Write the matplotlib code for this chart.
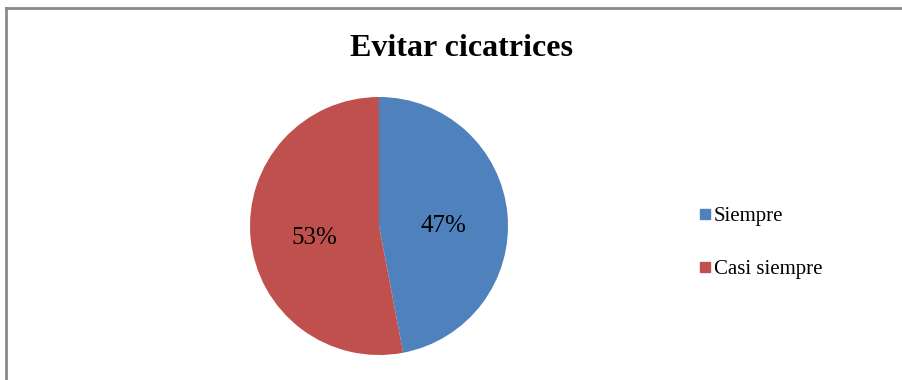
import matplotlib.pyplot as plt
import matplotlib.transforms as mtransforms
from matplotlib.lines import Line2D

labels = ["Siempre", "Casi siempre"]
values = [47, 53]
colors = ["#4F81BD", "#C0504D"]
title = "Evitar cicatrices"

plt.rcParams["font.family"] = ["Liberation Serif", "DejaVu Serif"]

W, H = 903, 380
fig = plt.figure(figsize=(W / 100, H / 100), dpi=100)

# pie axes: centre (379, 226) px, radius 129 px
cx, cy, r = 379, 226, 129
ax = fig.add_axes([(cx - r) / W, (H - cy - r) / H, 2 * r / W, 2 * r / H])
wedges, texts, autotexts = ax.pie(
    values,
    colors=colors,
    startangle=90,
    counterclock=False,
    autopct="%1.0f%%",
    pctdistance=0.5,
    textprops={"fontsize": 18, "color": "black"},
)
ax.set_aspect("equal")
ax.set_xlim(-1, 1)
ax.set_ylim(-1, 1)

# nudge the percentage labels down a little
shift = mtransforms.ScaledTranslation(0, -6 / 100, fig.dpi_scale_trans)
for t in autotexts:
    t.set_transform(t.get_transform() + shift)

fig.text(461 / W, 1 - 49 / H, title, ha="center", va="center",
         fontsize=23, fontweight="bold")

handles = [Line2D([], [], marker="s", linestyle="none", markersize=7,
                  markerfacecolor=c, markeredgecolor=c) for c in colors]
fig.legend(handles, labels, loc="center left",
           bbox_to_anchor=(688 / W, 1 - 243 / H), frameon=False,
           fontsize=15, handlelength=0.6, handletextpad=0.15,
           labelspacing=1.6, borderpad=0)

# chart border (top and left edges visible)
border = dict(color="#8a8a8a", linewidth=2, transform=fig.transFigure)
fig.add_artist(Line2D([6.5 / W, 1], [1 - 7.5 / H, 1 - 7.5 / H], **border))
fig.add_artist(Line2D([6.5 / W, 6.5 / W], [0, 1 - 7.5 / H], **border))

fig.savefig("out.png", dpi=100, facecolor="white")
